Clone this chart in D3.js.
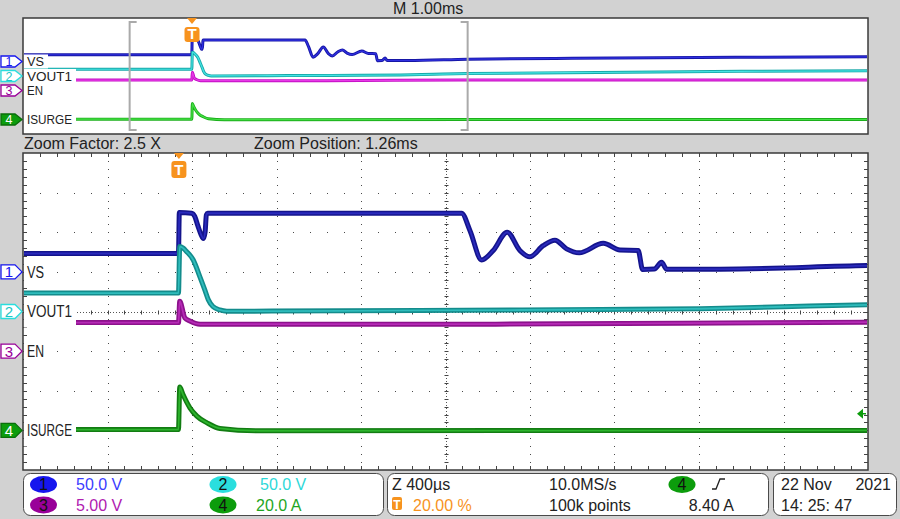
<!DOCTYPE html>
<html lang="en">
<head>
<meta charset="utf-8">
<title>Scope capture</title>
<script src="https://cdn.jsdelivr.net/npm/d3@7"></script>
<style>
  body { margin: 0; background: #d2d2d2; }
  svg { display: block; font-family: "Liberation Sans", Arial, sans-serif; }
  .panel { fill: #fff; stroke: #3a3a3a; stroke-width: 1.5px; }
  .info { fill: #fff; stroke: #4a4a4a; stroke-width: 1px; }
  .trace { fill: none; stroke-linejoin: round; }
</style>
</head>
<body>
<svg id="scope" width="900" height="519"></svg>
<script>

// waveforms: [time in ms from trigger, value in channel units]
var vsData = [
  [-2.0, 23.2], [-0.002, 23.2], [0.002, 75], [0.06, 74], [0.075, 70], [0.09, 58],
  [0.105, 47], [0.116, 42], [0.124, 50], [0.13, 72], [0.136, 74], [1.338, 74],
  [1.378, 52], [1.433, 15], [1.488, 27], [1.554, 50], [1.614, 27], [1.661, 19],
  [1.724, 33], [1.78, 40], [1.835, 29], [1.895, 24], [2.009, 36], [2.088, 27.5],
  [2.174, 27], [2.195, 3], [2.25, 3.5], [2.285, 12], [2.309, 3.4], [2.56, 3.4],
  [3.262, 8], [4.5, 11], [6.0, 14], [8.0, 16]
];
var vout1Data = [
  [-2.0, 23.2], [-0.002, 23.2], [0.004, 82], [0.02, 80], [0.035, 76], [0.068, 65],
  [0.099, 44], [0.123, 27], [0.139, 15], [0.161, 6.3], [0.194, 2], [0.227, 0.4],
  [1.14, 1.3], [2.0, 2.5], [2.47, 3.5], [2.86, 6.0], [3.262, 8.4], [4.8, 12],
  [6.5, 16], [8.0, 18]
];
var enData = [
  [-2.0, 3.6], [-0.002, 3.6], [0.004, 6.3], [0.028, 4.2], [0.052, 3.8], [0.1, 3.4],
  [1.5, 3.4], [3.262, 3.65], [8.0, 3.6]
];
var isurgeData = [
  [-2.0, 0.4], [-0.002, 0.4], [0.004, 21.9], [0.019, 18.2], [0.052, 11.4],
  [0.085, 7.2], [0.133, 3.8], [0.194, 1.0], [0.383, -0.2], [3.262, 0], [8.0, 0]
];

// channel settings
var chanIds = [1, 2, 3, 4];
var chanNames = ["VS", "VOUT1", "EN", "ISURGE"];
var chanScales = [50, 50, 5, 20];          // units per division
var chanPositions = [1, 0, -1, -3];        // ground level, divisions
var chanUnits = ["V", "V", "V", "A"];
var chanData = [vsData, vout1Data, enData, isurgeData];

// timebase
var mainPerDiv = 1.0, triggerPct = 20;     // ms/div, %
var zoomFactor = 2.5, zoomPosition = 1.262; // ms
var sampleRate = "10.0MS/s", recordLength = "100k points";
var trigChannel = 4, trigLevel = 8.40;
var dateText = ["22 Nov", "2021"], timeText = "14: 25: 47";

var colOuter = ["#14148c", "#138c8c", "#8c128c", "#127c12"];
var colInner = ["#2a2abc", "#2fbcbc", "#b62ab6", "#2db42d"];
var colTopOuter = ["#1616a6", "#18a8a8", "#c40ec4", "#1cb01c"];
var colTopInner = ["#3030e0", "#44e4e4", "#e63ae6", "#44e044"];
var colBadge = ["#1616ee", "#2adede", "#990099", "#0c9c0c"];
var colDigit = ["#1616ee", "#1cc6c6", "#990099", "#fff"];
var colText = ["#3c3cff", "#2ed8d8", "#b020b0", "#1ea61e"];
var orange = "#f7931e";

var svg = d3.select("#scope");
var L = 23, R = 868;
var topBox = { y0: 18, y1: 134 }, mainBox = { y0: 153, y1: 470 };

var topWindow = [-10 * mainPerDiv * triggerPct / 100, 10 * mainPerDiv * (1 - triggerPct / 100)];
var zoomPerDiv = mainPerDiv / zoomFactor;
var zoomWindow = [zoomPosition - 5 * zoomPerDiv, zoomPosition + 5 * zoomPerDiv];

var xTop = d3.scaleLinear().domain(topWindow).range([L, R]);
var xMain = d3.scaleLinear().domain(zoomWindow).range([L, R]);
var yTop = d3.scaleLinear().domain([-4, 4]).range([topBox.y1, topBox.y0]);
var yMain = d3.scaleLinear().domain([-4, 4]).range([mainBox.y1, mainBox.y0]);
var xDiv = d3.scaleLinear().domain([0, 10]).range([L, R]);

// panels
svg.append("rect").attr("class", "panel")
  .attr("x", L).attr("y", topBox.y0).attr("width", R - L).attr("height", topBox.y1 - topBox.y0);
svg.append("rect").attr("class", "panel")
  .attr("x", L).attr("y", mainBox.y0).attr("width", R - L).attr("height", mainBox.y1 - mainBox.y0);

var defs = svg.append("defs");
defs.append("clipPath").attr("id", "clipTop").append("rect")
  .attr("x", L + 1).attr("y", topBox.y0 + 1).attr("width", R - L - 2).attr("height", topBox.y1 - topBox.y0 - 2);
defs.append("clipPath").attr("id", "clipMain").append("rect")
  .attr("x", L + 1).attr("y", mainBox.y0 + 1).attr("width", R - L - 2).attr("height", mainBox.y1 - mainBox.y0 - 2);

// graticule of the zoomed panel
var grid = svg.append("g").attr("fill", "#4a4a4a");
var subX = d3.range(1, 50).map(function(k) { return k / 5; });
var subY = d3.range(-19, 20).map(function(k) { return k / 5; });
d3.range(1, 10).filter(function(i) { return i != 5; }).forEach(function(i) {
  grid.selectAll(null).data(subY).enter().append("rect")
    .attr("x", Math.round(xDiv(i))).attr("y", function(d) { return Math.round(yMain(d)); })
    .attr("width", 1).attr("height", 1);
});
d3.range(-3, 4).filter(function(k) { return k != 0; }).forEach(function(k) {
  grid.selectAll(null).data(subX).enter().append("rect")
    .attr("x", function(d) { return Math.round(xDiv(d)); }).attr("y", Math.round(yMain(k)))
    .attr("width", 1).attr("height", 1);
});
// centre lines
var cx = Math.round(xDiv(5)) + 0.5, cy = Math.round(yMain(0)) + 0.5;
grid.append("line").attr("x1", cx).attr("x2", cx).attr("y1", mainBox.y0).attr("y2", mainBox.y1)
  .attr("stroke", "#555").attr("stroke-dasharray", "1,2");
grid.append("line").attr("x1", L).attr("x2", R).attr("y1", cy).attr("y2", cy)
  .attr("stroke", "#555").attr("stroke-dasharray", "1,2");
grid.selectAll(null).data(subY).enter().append("line")
  .attr("x1", cx - 2).attr("x2", cx + 2)
  .attr("y1", function(d) { return Math.round(yMain(d)) + 0.5; })
  .attr("y2", function(d) { return Math.round(yMain(d)) + 0.5; })
  .attr("stroke", "#444");
grid.selectAll(null).data(subX).enter().append("line")
  .attr("y1", cy - 2).attr("y2", cy + 2)
  .attr("x1", function(d) { return Math.round(xDiv(d)) + 0.5; })
  .attr("x2", function(d) { return Math.round(xDiv(d)) + 0.5; })
  .attr("stroke", "#444");
// edge ticks
[mainBox.y0, mainBox.y1].forEach(function(yy, n) {
  grid.selectAll(null).data(subX).enter().append("line")
    .attr("x1", function(d) { return Math.round(xDiv(d)) + 0.5; })
    .attr("x2", function(d) { return Math.round(xDiv(d)) + 0.5; })
    .attr("y1", yy).attr("y2", n ? yy - 4 : yy + 4).attr("stroke", "#444");
});
[L, R].forEach(function(xx, n) {
  grid.selectAll(null).data(subY).enter().append("line")
    .attr("y1", function(d) { return Math.round(yMain(d)) + 0.5; })
    .attr("y2", function(d) { return Math.round(yMain(d)) + 0.5; })
    .attr("x1", xx).attr("x2", n ? xx - 4 : xx + 4).attr("stroke", "#444");
});

// traces
function drawTraces(clipId, x, y, outer, inner, wOuter, wInner) {
  var g = svg.append("g").attr("clip-path", "url(#" + clipId + ")");
  chanData.forEach(function(data, c) {
    var line = d3.line().curve(d3.curveMonotoneX)
      .x(function(d) { return x(d[0]); })
      .y(function(d) { return y(chanPositions[c] + d[1] / chanScales[c]); });
    g.append("path").attr("class", "trace").attr("d", line(data))
      .attr("stroke", outer[c]).attr("stroke-width", wOuter);
    g.append("path").attr("class", "trace").attr("d", line(data))
      .attr("stroke", inner[c]).attr("stroke-width", wInner);
  });
}
drawTraces("clipMain", xMain, yMain, colOuter, colInner, 5, 1.8);
drawTraces("clipTop", xTop, yTop, colTopOuter, colTopInner, 3, 1.2);

// zoom bracket in the overview
var br = svg.append("g").attr("stroke", "#aaa").attr("stroke-width", 2).attr("fill", "none");
zoomWindow.forEach(function(t, n) {
  var bx = xTop(t), d = n ? -7 : 7;
  br.append("path").attr("d", "M" + (bx + d) + "," + (topBox.y0 + 4) + "H" + bx +
    "V" + (topBox.y1 - 4) + "H" + (bx + d));
});

// channel labels and markers
function drawLabels(y, boxUp, boxDown, fs, half, lens) {
  var g = svg.append("g");
  chanNames.forEach(function(name, c) {
    var gy = y(chanPositions[c]);
    g.append("rect").attr("x", L + 1).attr("y", gy - boxUp)
      .attr("width", lens[c] + 7).attr("height", boxUp + boxDown).attr("fill", "#fff");
    g.append("text").attr("x", L + 4).attr("y", gy + fs * 0.36)
      .attr("font-size", fs).attr("fill", "#222")
      .attr("textLength", lens[c]).attr("lengthAdjust", "spacingAndGlyphs")
      .text(name);
    var sel = chanIds[c] == trigChannel;
    g.append("path")
      .attr("d", "M1," + (gy - half) + "H15L22," + gy + "L15," + (gy + half) + "H1Z")
      .attr("fill", sel ? colBadge[c] : "#fff")
      .attr("stroke", sel ? "#0a6e0a" : colBadge[c]).attr("stroke-width", 1.3);
    g.append("text").attr("x", 9).attr("y", gy + fs * 0.35).attr("text-anchor", "middle")
      .attr("font-size", fs - 1).attr("fill", colDigit[c])
      .text(chanIds[c]);
  });
}
drawLabels(yMain, 12, 16, 16, 7, [17, 45, 17, 45]);
drawLabels(yTop, 7, 7, 13.5, 5.5, [17, 45, 16, 45]);

// trigger position markers
function trigMark(x, top, boxY, boxH) {
  var g = svg.append("g");
  g.append("path").attr("d", "M" + (x - 5) + "," + top + "H" + (x + 5) + "L" + x + "," + (top + 6) + "Z")
    .attr("fill", orange);
  g.append("rect").attr("x", x - 7.5).attr("y", boxY).attr("width", 15).attr("height", boxH)
    .attr("rx", 3).attr("fill", orange);
  g.append("text").attr("x", x).attr("y", boxY + boxH - 3).attr("text-anchor", "middle")
    .attr("font-size", 15).attr("font-weight", "bold").attr("fill", "#fff").text("T");
}
trigMark(xTop(0), topBox.y0, 27, 15);
trigMark(xMain(0), mainBox.y0, 161, 17);

// trigger level arrow
var tl = yMain(chanPositions[trigChannel - 1] + trigLevel / chanScales[trigChannel - 1]);
svg.append("path").attr("d", "M" + (R - 11) + "," + tl + "L" + (R - 5) + "," + (tl - 5) + "V" + (tl + 5) + "Z")
  .attr("fill", colBadge[3]);
svg.append("line").attr("x1", R - 6).attr("x2", R - 2).attr("y1", tl).attr("y2", tl)
  .attr("stroke", colBadge[3]).attr("stroke-width", 1.5);

// header texts
svg.append("text").attr("x", 393).attr("y", 14).attr("font-size", 16).attr("fill", "#222")
  .text("M " + mainPerDiv.toFixed(2) + "ms");
svg.append("text").attr("x", 24).attr("y", 149).attr("font-size", 16).attr("fill", "#222")
  .text("Zoom Factor: " + zoomFactor + " X");
svg.append("text").attr("x", 254).attr("y", 149).attr("font-size", 16).attr("fill", "#222")
  .text("Zoom Position: " + zoomPosition.toFixed(2) + "ms");

// bottom readout
var row1 = 490, row2 = 510.5;
svg.append("rect").attr("class", "info").attr("x", 23.5).attr("y", 473.5).attr("width", 360).attr("height", 42).attr("rx", 7);
svg.append("rect").attr("class", "info").attr("x", 387.5).attr("y", 473.5).attr("width", 381).attr("height", 42).attr("rx", 7);
svg.append("rect").attr("class", "info").attr("x", 773.5).attr("y", 473.5).attr("width", 123).attr("height", 42).attr("rx", 7);

function badge(x, base, c, num) {
  svg.append("ellipse").attr("cx", x).attr("cy", base - 5.5).attr("rx", 13.5).attr("ry", 8.5)
    .attr("fill", colBadge[c]);
  svg.append("text").attr("x", x).attr("y", base).attr("text-anchor", "middle")
    .attr("font-size", 16).attr("fill", "#111").text(num);
}
var badgeX = [43.5, 223, 43.5, 223], badgeRow = [row1, row1, row2, row2];
var readX = [76, 260, 76, 256];
chanIds.forEach(function(id, c) {
  badge(badgeX[c], badgeRow[c], c, id);
  svg.append("text").attr("x", readX[c]).attr("y", badgeRow[c]).attr("font-size", 16)
    .attr("fill", colText[c])
    .text(chanScales[c].toPrecision(3) + " " + chanUnits[c]);
});

svg.append("text").attr("x", 392).attr("y", row1).attr("font-size", 16).attr("fill", "#222")
  .text("Z " + Math.round(zoomPerDiv * 1000) + "\u00b5s");
svg.append("rect").attr("x", 392).attr("y", 497).attr("width", 10).attr("height", 13).attr("rx", 2).attr("fill", orange);
svg.append("text").attr("x", 397).attr("y", 508.5).attr("text-anchor", "middle").attr("font-size", 12)
  .attr("font-weight", "bold").attr("fill", "#fff").text("T");
svg.append("text").attr("x", 413).attr("y", row2).attr("font-size", 16).attr("fill", orange)
  .text(triggerPct.toFixed(2) + " %");
svg.append("text").attr("x", 549).attr("y", row1).attr("font-size", 16).attr("fill", "#222").text(sampleRate);
svg.append("text").attr("x", 549).attr("y", row2).attr("font-size", 16).attr("fill", "#222").text(recordLength);
badge(682, row1, 3, trigChannel);
svg.append("path").attr("d", "M712," + (row1 - 1) + "H716L720," + (row1 - 11) + "H725")
  .attr("fill", "none").attr("stroke", "#222").attr("stroke-width", 1.3);
svg.append("text").attr("x", 734).attr("y", row2).attr("text-anchor", "end").attr("font-size", 16)
  .attr("fill", "#222").text(trigLevel.toFixed(2) + " " + chanUnits[trigChannel - 1]);

svg.append("text").attr("x", 781).attr("y", row1).attr("font-size", 16).attr("fill", "#222").text(dateText[0]);
svg.append("text").attr("x", 891).attr("y", row1).attr("text-anchor", "end").attr("font-size", 16).attr("fill", "#222").text(dateText[1]);
svg.append("text").attr("x", 781).attr("y", row2).attr("font-size", 16).attr("fill", "#222").text(timeText);

</script>
</body>
</html>
